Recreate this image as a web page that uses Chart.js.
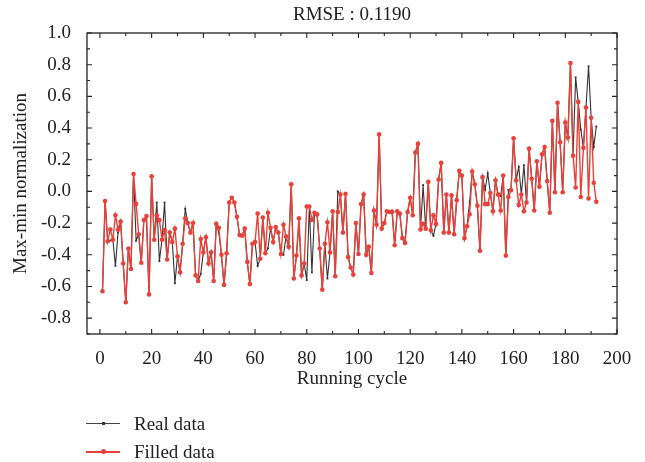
<!DOCTYPE html>
<html>
<head>
<meta charset="utf-8">
<script src="https://cdn.jsdelivr.net/npm/chart.js@4.4.1/dist/chart.umd.min.js"></script>
<style>
  body { margin: 0; background: #fff; }
  #wrap { position: relative; width: 645px; height: 462px; }
  #title { position: absolute; left: 252px; width: 200px; top: 3px; text-align: center;
           font-family: "Liberation Serif", "DejaVu Serif", serif; font-size: 19px; color: #222; }
  .legend { position: absolute; left: 86px; font-family: "Liberation Serif", "DejaVu Serif", serif; font-size: 19px; color: #222; }
  .legend div { position: relative; height: 28px; line-height: 28px; }
  .legend .ln { position: absolute; left: 0; top: 13px; width: 34px; height: 1px; }
  .legend .mk { position: absolute; }
  .legend span.txt { position: absolute; left: 48px; top: 0; white-space: nowrap; }
</style>
</head>
<body>
<div id="wrap">
  <canvas id="chart" width="645" height="462"></canvas>
  <div id="title">RMSE : 0.1190</div>
  <div class="legend" style="top:410px">
    <div><span class="ln" style="background:#444"></span><span class="mk" style="top:12px;left:16px;width:3px;height:3px;background:#333"></span><span class="txt">Real data</span></div>
    <div><span class="ln" style="background:#e8413a;height:1.5px"></span><span class="mk" style="top:11px;left:15px;width:5px;height:5px;border-radius:50%;background:#e8413a"></span><span class="txt">Filled data</span></div>
  </div>
</div>
<script>
// Max-min normalized values per running cycle (1..192)
const cycles = Array.from({ length: 192 }, (_, i) => i + 1);

const filledData = [
  -0.63, -0.06, -0.315, -0.24, -0.305, -0.15, -0.24, -0.19, -0.455, -0.70,
  -0.36, -0.49, 0.11, -0.08, -0.27, -0.45, -0.18, -0.155, -0.65, 0.095,
  -0.305, -0.15, -0.18, -0.305, -0.245, -0.43, -0.26, -0.32, -0.235, -0.41,
  -0.51, -0.33, -0.17, -0.20, -0.26, -0.20, -0.53, -0.565, -0.30, -0.385,
  -0.29, -0.455, -0.385, -0.565, -0.205, -0.23, -0.40, -0.59, -0.39, -0.07,
  -0.04, -0.07, -0.16, -0.275, -0.28, -0.235, -0.445, -0.585, -0.33, -0.32,
  -0.14, -0.425, -0.165, -0.39, -0.135, -0.23, -0.32, -0.225, -0.26, -0.395,
  -0.21, -0.285, -0.35, 0.045, -0.55, -0.405, -0.17, -0.53, -0.455, -0.095,
  -0.095, -0.18, -0.135, -0.145, -0.36, -0.62, -0.33, -0.195, -0.385, -0.125,
  -0.535, -0.13, -0.02, -0.26, -0.015, -0.415, -0.48, -0.525, -0.20, -0.395,
  -0.08, -0.02, -0.40, -0.35, -0.515, -0.12, -0.21, 0.36, -0.235, -0.20,
  -0.125, -0.13, -0.13, -0.34, -0.125, -0.14, -0.295, -0.325, -0.13, -0.04,
  -0.15, 0.245, 0.30, -0.24, -0.205, -0.235, 0.06, -0.245, -0.15, -0.205,
  0.075, 0.18, -0.26, -0.02, -0.26, -0.025, -0.27, -0.055, 0.13, 0.10,
  -0.295, -0.22, -0.145, 0.125, 0.045, -0.09, -0.375, 0.09, -0.08, -0.08,
  -0.01, -0.125, 0.07, -0.02, -0.12, 0.10, -0.405, -0.035, 0.008, 0.335,
  0.07, -0.085, -0.02, -0.125, -0.07, 0.27, 0.08, -0.12, 0.19, 0.03,
  0.235, 0.28, 0.065, -0.135, 0.445, -0.005, 0.56, 0.31, -0.005, 0.435,
  0.34, 0.81, 0.225, 0.025, 0.565, -0.035, 0.275, 0.53, -0.045, 0.465,
  0.055, -0.065
];

const realData = [
  -0.63, -0.06, -0.315, -0.31, -0.305, -0.47, -0.26, -0.19, -0.455, -0.70,
  -0.36, -0.49, 0.11, -0.31, -0.27, -0.45, -0.18, -0.155, -0.65, 0.095,
  -0.305, -0.07, -0.44, -0.305, -0.07, -0.43, -0.26, -0.32, -0.58, -0.41,
  -0.51, -0.33, -0.11, -0.20, -0.26, -0.20, -0.53, -0.565, -0.52, -0.385,
  -0.29, -0.455, -0.385, -0.565, -0.205, -0.26, -0.40, -0.59, -0.39, -0.07,
  -0.04, -0.07, -0.16, -0.275, -0.28, -0.235, -0.445, -0.585, -0.33, -0.32,
  -0.47, -0.425, -0.165, -0.39, -0.36, -0.23, -0.32, -0.225, -0.26, -0.395,
  -0.40, -0.285, -0.35, 0.045, -0.55, -0.405, -0.20, -0.53, -0.455, -0.56,
  -0.095, -0.51, -0.135, -0.145, -0.36, -0.62, -0.33, -0.55, -0.385, -0.125,
  -0.535, 0.00, -0.02, -0.26, -0.015, -0.415, -0.48, -0.525, -0.20, -0.395,
  -0.08, -0.02, -0.40, -0.35, -0.515, -0.12, -0.21, 0.36, -0.235, -0.20,
  -0.125, -0.13, -0.12, -0.34, -0.125, -0.14, -0.295, -0.325, -0.13, -0.04,
  -0.15, 0.245, 0.30, -0.24, 0.04, -0.235, 0.06, -0.245, -0.28, -0.205,
  0.075, 0.18, -0.26, -0.02, -0.26, -0.025, -0.27, -0.055, 0.13, 0.10,
  -0.295, -0.22, -0.065, 0.125, 0.045, -0.09, -0.375, 0.09, 0.01, 0.115,
  -0.01, -0.125, 0.07, -0.02, -0.03, 0.10, -0.405, 0.01, 0.008, 0.335,
  0.07, 0.155, -0.02, 0.165, -0.07, 0.27, 0.08, -0.12, 0.19, 0.03,
  0.235, 0.28, 0.065, -0.135, 0.445, -0.005, 0.56, 0.31, -0.005, 0.435,
  0.34, 0.81, 0.225, 0.72, 0.565, 0.39, 0.275, 0.53, 0.79, 0.465,
  0.28, 0.41
];

const xTicks = [0, 20, 40, 60, 80, 100, 120, 140, 160, 180, 200];
const yTicks = [-0.8, -0.6, -0.4, -0.2, 0.0, 0.2, 0.4, 0.6, 0.8, 1.0];
const xRange = [-5, 200];
const yRange = [-0.9, 1.0];

const serif = '"Liberation Serif", "DejaVu Serif", serif';
const red = '#e8413a';
const dark = '#333333';
// where the plot frame sits in the reference
const target = { left: 87, right: 617, top: 33, bottom: 334 };

function frameBox(chart) {
  const { x, y } = chart.scales;
  return {
    left: x.getPixelForValue(xRange[0]),
    right: x.getPixelForValue(xRange[1]),
    top: y.getPixelForValue(yRange[1]),
    bottom: y.getPixelForValue(yRange[0])
  };
}

// inward ticks on all four sides plus the frame
const framePlugin = {
  id: 'frame',
  afterDraw(chart) {
    const { ctx, scales } = chart;
    const a = frameBox(chart);
    ctx.save();
    ctx.strokeStyle = '#222';
    ctx.lineWidth = 1.3;
    ctx.strokeRect(a.left, a.top, a.right - a.left, a.bottom - a.top);
    ctx.lineWidth = 1.1;
    ctx.beginPath();
    for (let v = 0; v <= 200; v += 10) {
      const px = scales.x.getPixelForValue(v);
      const len = v % 20 === 0 ? 5 : 3;
      ctx.moveTo(px, a.bottom); ctx.lineTo(px, a.bottom - len);
      ctx.moveTo(px, a.top); ctx.lineTo(px, a.top + len);
    }
    for (let k = -9; k <= 10; k++) {
      const py = scales.y.getPixelForValue(k / 10);
      const len = k % 2 === 0 ? 5 : 3;
      ctx.moveTo(a.left, py); ctx.lineTo(a.left + len, py);
      ctx.moveTo(a.right, py); ctx.lineTo(a.right - len, py);
    }
    ctx.stroke();
    ctx.restore();
  }
};

const chart = new Chart(document.getElementById('chart'), {
  type: 'line',
  data: {
    datasets: [
      {
        label: 'Real data',
        data: cycles.map((c, i) => ({ x: c, y: realData[i] })),
        borderColor: dark,
        backgroundColor: dark,
        borderWidth: 1.1,
        pointStyle: 'rect',
        pointRadius: 1.3,
        pointBorderWidth: 0,
        order: 1
      },
      {
        label: 'Filled data',
        data: cycles.map((c, i) => ({ x: c, y: filledData[i] })),
        borderColor: red,
        backgroundColor: red,
        borderWidth: 1.4,
        pointRadius: 2.3,
        pointBorderWidth: 0,
        order: 0
      }
    ]
  },
  options: {
    responsive: false,
    animation: false,
    layout: { padding: { left: 10, right: 28, top: 24, bottom: 72 } },
    plugins: {
      legend: { display: false },
      tooltip: { enabled: false }
    },
    scales: {
      x: {
        type: 'linear',
        min: xRange[0],
        max: xRange[1],
        afterBuildTicks: s => { s.ticks = xTicks.map(v => ({ value: v })); },
        afterFit: s => { s.height = 56; },
        grid: { display: false },
        border: { display: false },
        ticks: { color: '#222', font: { family: serif, size: 19 }, padding: 6, maxRotation: 0 },
        title: {
          display: true,
          text: 'Running cycle',
          color: '#222',
          font: { family: serif, size: 19 },
          padding: { top: 2, bottom: 0 }
        }
      },
      y: {
        min: yRange[0],
        max: yRange[1],
        afterBuildTicks: s => { s.ticks = yTicks.map(v => ({ value: v })); },
        afterFit: s => { s.width = 77; },
        grid: { display: false },
        border: { display: false },
        ticks: {
          color: '#222',
          font: { family: serif, size: 19 },
          padding: 8,
          callback: v => v.toFixed(1)
        },
        title: {
          display: true,
          text: 'Max-min normalization',
          color: '#222',
          font: { family: serif, size: 19 },
          padding: { top: 0, bottom: 4 }
        }
      }
    }
  },
  plugins: [framePlugin]
});

// nudge the padding so the frame lands where the reference has it
const box = frameBox(chart);
const pad = chart.options.layout.padding;
pad.left += target.left - box.left;
pad.right += box.right - target.right;
pad.top += target.top - box.top;
pad.bottom += box.bottom - target.bottom;
chart.update();
</script>
</body>
</html>
